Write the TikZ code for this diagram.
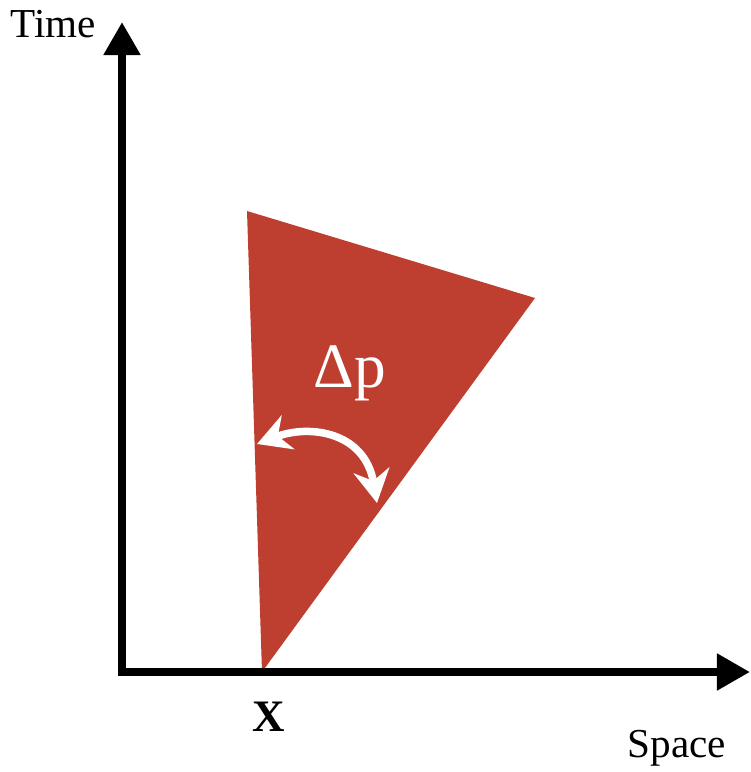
\documentclass[tikz,border=0pt]{standalone}
\usepackage{fontspec}
\setmainfont{Liberation Serif}
\usetikzlibrary{arrows.meta}
\definecolor{conered}{RGB}{190,62,48}

\begin{document}
\begin{tikzpicture}[
      x=0.01cm, y=-0.01cm,
      axis/.style={line width=0.08cm, -{Triangle[length=0.33cm, width=0.35cm]}},
      lbl/.style={anchor=base, inner sep=0pt, font=\fontsize{11.7}{14}\selectfont},
      swing/.style={white, line width=0.075cm,
        {Stealth[length=0.33cm, width=0.36cm]}-{Stealth[length=0.33cm, width=0.36cm]}}
    ]
      \useasboundingbox (0,0) rectangle (750,772);
      % cone
      \coordinate (top) at (247,211);
      \coordinate (rim) at (535,298);
      \coordinate (apex) at (262,672);
      \fill[conered] (top) -- (rim) -- (apex) -- cycle;
      % axes
      \coordinate (tbot) at (122,676);
      \coordinate (ttip) at (122,22);
      \coordinate (sbot) at (118,672);
      \coordinate (stip) at (750,672);
      \draw[axis] (tbot) -- (ttip);
      \draw[axis] (sbot) -- (stip);
      \node[lbl] (time) at (53.5,37) {Time};
      \node[lbl] (space) at (677,757) {Space};
      \node[lbl, font=\fontsize{12.8}{16}\selectfont\bfseries] (x) at (269,731) {X};
      % angle spread
      \coordinate (sl) at (257,444);
      \coordinate (sr) at (377,503);
      \draw[swing] (sl) .. controls (310,424) and (365,432) .. (sr);
      \node[lbl, white, font=\fontsize{18}{21}\selectfont] (dp) at (350,387) {Δp};
    \end{tikzpicture}
\end{document}
